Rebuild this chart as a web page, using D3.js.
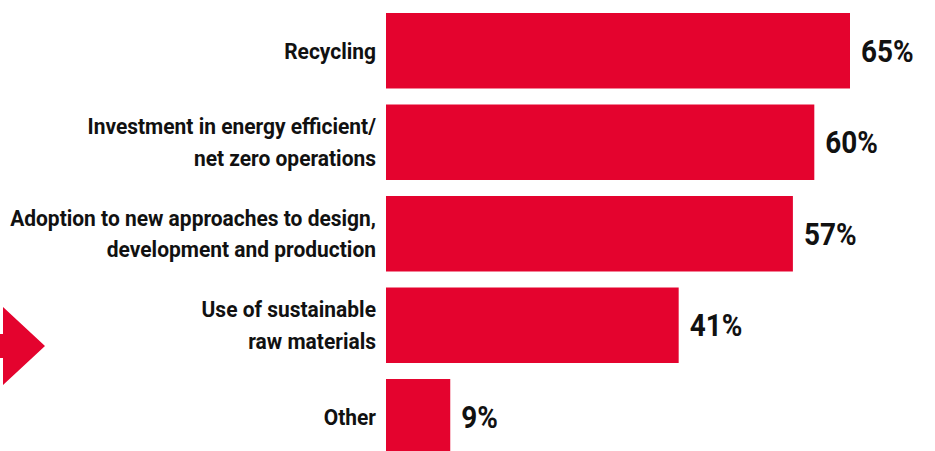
<!DOCTYPE html>
<html>
<head>
<meta charset="utf-8">
<script src="https://cdn.jsdelivr.net/npm/d3@7"></script>
<style>
  html, body { margin: 0; padding: 0; background: #fff; }
  svg { display: block; }
  text { font-family: "Roboto", "DejaVu Sans Condensed", sans-serif; font-weight: bold; fill: #111; }
</style>
</head>
<body>
<svg id="chart" width="935" height="451"></svg>
<script>
// Survey responses: share of respondents per sustainability action
const categories = [
  ["Recycling"],
  ["Investment in energy efficient/", "net zero operations"],
  ["Adoption to new approaches to design,", "development and production"],
  ["Use of sustainable", "raw materials"],
  ["Other"]
];
const values = [65, 60, 57, 41, 9];

const RED = "#e4032e";
const svg = d3.select("#chart");

const x = d3.scaleLinear().domain([0, 65]).range([386, 850]);
const y = d3.scaleBand()
  .domain(d3.range(values.length))
  .range([13, 454.5])
  .paddingInner(0.175)
  .paddingOuter(0);

// Bars
svg.selectAll("rect.bar")
  .data(values)
  .join("rect")
  .attr("class", "bar")
  .attr("x", x(0))
  .attr("y", (d, i) => y(i))
  .attr("width", d => x(d) - x(0))
  .attr("height", y.bandwidth())
  .attr("fill", RED);

// Value labels (condensed by a horizontal squeeze)
const valSqueeze = 0.9;
svg.selectAll("text.val")
  .data(values)
  .join("text")
  .attr("class", "val")
  .attr("transform", (d, i) =>
    `translate(${x(d) + 11},${y(i) + y.bandwidth() / 2}) scale(${valSqueeze},1)`)
  .attr("dy", "0.36em")
  .attr("font-size", 31)
  .text(d => d + "%");

// Category labels, right aligned against the bars, set in a narrow face
const labelRight = 376;
const lineH = 31.5;
const labelLayer = svg.append("g");
const labels = labelLayer.selectAll("text.cat")
  .data(categories)
  .join("text")
  .attr("class", "cat")
  .attr("text-anchor", "end")
  .attr("font-size", 22);
labels.each(function (lines, i) {
  const cy = y(i) + y.bandwidth() / 2;
  const t = d3.select(this);
  lines.forEach((ln, k) => {
    t.append("tspan")
      .attr("x", 0)
      .attr("y", cy + (k - (lines.length - 1) / 2) * lineH)
      .attr("dy", "0.36em")
      .text(ln);
  });
});
// Squeeze so the widest line fits between the left margin and the bars
let widest = 0;
labels.selectAll("tspan").each(function () {
  widest = Math.max(widest, this.getComputedTextLength());
});
const squeeze = Math.min(1, (labelRight - 10) / widest);
labelLayer.attr("transform", `translate(${labelRight},0) scale(${squeeze},1)`);

// Decorative arrow on the left edge
svg.append("path")
  .attr("d", "M0,334 L3,334 L3,307 L45,346 L3,385 L3,358 L0,358 Z")
  .attr("fill", RED);
</script>
</body>
</html>
